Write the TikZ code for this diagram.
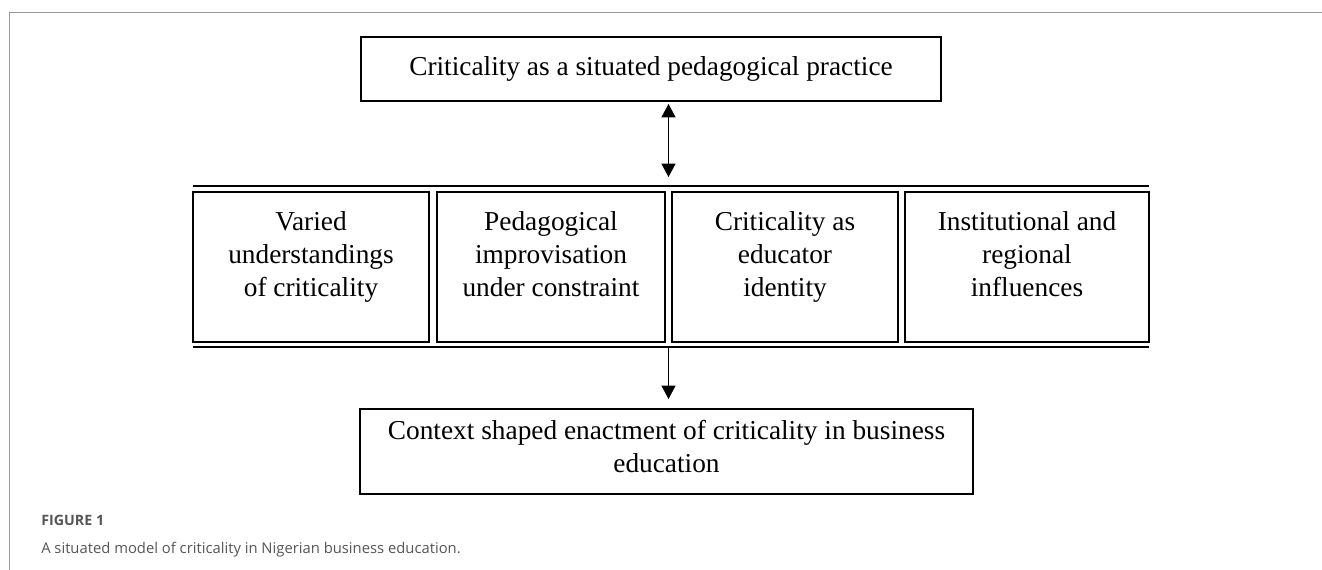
\documentclass[tikz,border=0pt]{standalone}
\usepackage{fontspec}
\setmainfont{Liberation Serif}
\newfontfamily\capfont{Open Sans}
\usetikzlibrary{arrows.meta,calc}
\definecolor{capgray}{HTML}{555555}
\definecolor{framegray}{HTML}{9A9A9A}

\begin{document}
\begin{tikzpicture}[x=0.75pt, y=-0.75pt,
    box/.style={draw, line width=1.5pt, align=center, inner sep=0pt, outer sep=0pt,
      font=\fontsize{20.5}{24.75}\selectfont, execute at begin node=\strut},
    % text in the row sits a little high in its box
    row/.style={box, minimum height=112.5pt, execute at end node={\rule[-19.5pt]{0pt}{19.5pt}}},
    rule/.style={line width=1.5pt},
    tip/.tip={Triangle[width=10.5pt,length=10pt]},
    link/.style={line width=0.75pt},
    caption/.style={anchor=west, inner sep=0pt, text=capgray}]
    \useasboundingbox (0,0) rectangle (1322,570);

    % page frame
    \draw[framegray, line width=1.1pt] (9.5,570) -- (9.5,12.5) -- (1322,12.5);

    % 1. boxes
    \node[box, minimum width=435pt, minimum height=48pt] (practice) at (651,69)
      {Criticality as a situated pedagogical practice\strut};
    \node[row, minimum width=177pt] (varied) at (311,267)
      {Varied\\understandings\\of criticality};
    \node[row, minimum width=171pt] (improv) at (551,267)
      {Pedagogical\\improvisation\\under constraint};
    \node[row, minimum width=169.5pt] (identity) at (785,267)
      {Criticality as\\educator\\identity};
    \node[row, minimum width=183pt] (influence) at (1027,267)
      {Institutional and\\regional\\influences};
    \node[box, minimum width=459.75pt, minimum height=63.75pt] (enactment) at (666.5,451.5)
      {Context shaped enactment of criticality in business\\education};

    % 2. rules round the row
    \coordinate (topl) at ([yshift=4.5pt]varied.north west);
    \coordinate (topr) at ([yshift=4.5pt]influence.north east);
    \coordinate (botl) at ([yshift=-3.75pt]varied.south west);
    \coordinate (botr) at ([yshift=-3.75pt]influence.south east);
    \draw[rule] (topl) -- (topr);
    \draw[rule] (botl) -- (botr);

    % 3. arrows
    \coordinate (gap) at ($(improv.east)!0.5!(identity.west)$);
    \draw[link, tip-tip, shorten <=2.25pt, shorten >=6.75pt]
      (practice.south -| gap) -- (topl -| gap);
    \draw[link, -tip, shorten >=7.5pt]
      (botl -| gap) -- (enactment.north -| gap);

    % caption
    \node[caption, font=\capfont\bfseries\fontsize{10.7}{12}\selectfont] (fig) at (41,520) {FIGURE 1};
    \node[caption, font=\capfont\fontsize{11.1}{13}\selectfont] (title) at (41,550)
      {A situated model of criticality in Nigerian business education.};
  \end{tikzpicture}
\end{document}
